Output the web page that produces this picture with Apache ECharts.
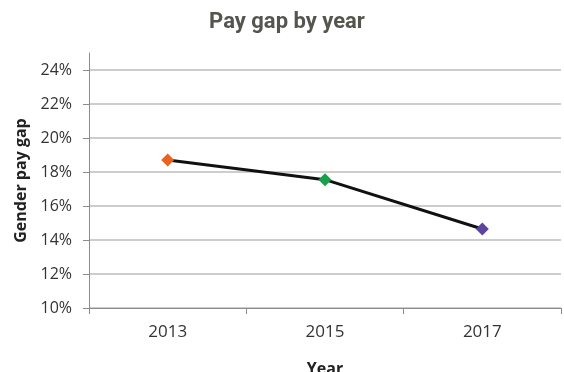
<!DOCTYPE html>
<html><head><meta charset="utf-8">
<script src="https://cdn.jsdelivr.net/npm/echarts@6/dist/echarts.min.js"></script>
<style>html,body{margin:0;padding:0;background:#fff}#c{width:564px;height:372px}</style>
</head><body><div id="c"></div>
<script>
const years = ['2013', '2015', '2017'];
const payGap = [18.7, 17.55, 14.65];
const pointColors = ['#e8641e', '#16a04a', '#5c44a0'];
const yTicks = [10, 12, 14, 16, 18, 20, 22, 24];

const chart = echarts.init(document.getElementById('c'));
chart.setOption({
  animation: false,
  backgroundColor: '#fff',
  title: {
    text: 'Pay gap by year', left: 282, textAlign: 'center', top: 6,
    textStyle: {fontFamily: 'Roboto', fontWeight: 'bold', fontSize: 22, color: '#555550'}
  },
  grid: {left: 89, right: 3, top: 53, bottom: 64, containLabel: false, outerBoundsMode: 'none'},
  xAxis: {
    type: 'category', data: years, boundaryGap: true,
    name: 'Year', nameLocation: 'middle', nameGap: 53,
    nameTextStyle: {fontFamily: 'Open Sans', fontWeight: 'bold', fontSize: 16, color: '#222'},
    axisLine: {lineStyle: {color: '#8c8c8c', width: 1}},
    axisTick: {show: true, length: 6, alignWithLabel: false, lineStyle: {color: '#8c8c8c'}},
    axisLabel: {fontFamily: 'Open Sans', fontSize: 17, color: '#333', margin: 16}
  },
  yAxis: {
    type: 'value', min: yTicks[0], max: 25, interval: 2,
    name: 'Gender pay gap', nameLocation: 'middle', nameGap: 58, nameRotate: 90,
    nameTextStyle: {fontFamily: 'Open Sans', fontWeight: 'bold', fontSize: 16, color: '#222'},
    axisLine: {show: true, lineStyle: {color: '#8c8c8c', width: 1}},
    axisTick: {show: true, length: 6, lineStyle: {color: '#8c8c8c'}},
    axisLabel: {
      fontFamily: 'Open Sans', fontSize: 16, color: '#333', margin: 17, showMaxLabel: false,
      formatter: v => (yTicks.indexOf(v) >= 0 ? v + '%' : '')
    },
    splitLine: {show: true, showMaxLine: false, lineStyle: {color: '#bdbdbd', width: 1.5}}
  },
  series: [{
    type: 'line', data: payGap.map((v, i) => ({value: v, itemStyle: {color: pointColors[i]}})),
    symbol: 'diamond', symbolSize: 13,
    lineStyle: {color: '#111', width: 3},
    itemStyle: {borderWidth: 0}
  }]
});
</script></body></html>
